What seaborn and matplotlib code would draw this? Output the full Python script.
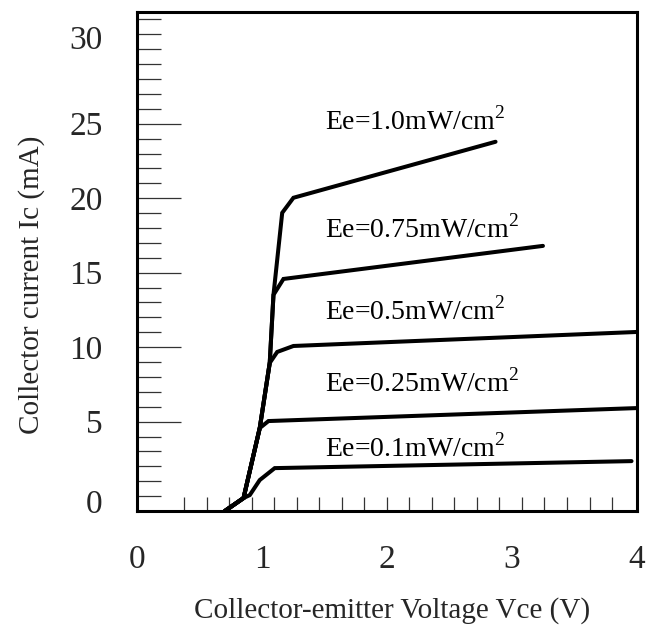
import numpy as np
import pandas as pd
import matplotlib
matplotlib.use("Agg")
import matplotlib.pyplot as plt
import seaborn as sns

# Curve values (Vce in V, Ic in mA)
vce_01 = [0.70, 0.85, 0.90, 0.98, 1.10, 3.96]
ic_01 = [-1.0, -0.13, 0.07, 1.08, 1.88, 2.35]

vce_025 = [0.70, 0.85, 0.98, 1.05, 4.00]
ic_025 = [-1.0, -0.13, 4.57, 5.04, 5.91]

vce_05 = [0.70, 0.85, 0.98, 1.06, 1.12, 1.25, 4.00]
ic_05 = [-1.0, -0.13, 4.57, 8.94, 9.68, 10.08, 11.02]

vce_075 = [0.70, 0.85, 0.98, 1.06, 1.09, 1.17, 3.25]
ic_075 = [-1.0, -0.13, 4.57, 8.94, 13.51, 14.58, 16.80]

vce_10 = [0.70, 0.85, 0.98, 1.06, 1.09, 1.16, 1.25, 2.87]
ic_10 = [-1.0, -0.13, 4.57, 8.94, 13.51, 19.02, 20.03, 23.79]

series_names = ["Ee=0.1", "Ee=0.25", "Ee=0.5", "Ee=0.75", "Ee=1.0"]
series_vce = [vce_01, vce_025, vce_05, vce_075, vce_10]
series_ic = [ic_01, ic_025, ic_05, ic_075, ic_10]

label_texts = ["Ee=0.1mW/cm$^2$", "Ee=0.25mW/cm$^2$", "Ee=0.5mW/cm$^2$",
               "Ee=0.75mW/cm$^2$", "Ee=1.0mW/cm$^2$"]
label_x = [1.50, 1.50, 1.50, 1.50, 1.50]
label_y = [2.62, 6.99, 11.83, 17.34, 24.6]

x_tick_values = [0, 1, 2, 3, 4]
y_major_values = [5, 10, 15, 20, 25]
y_extra_labels = ["0", "30"]
y_extra_pos = [-0.6, 30.6]

rows = []
for name, xs, ys in zip(series_names, series_vce, series_ic):
    for i, (x, y) in enumerate(zip(xs, ys)):
        rows.append({"curve": name, "order": i, "Vce": x, "Ic": y})
df = pd.DataFrame(rows)

sns.set_theme(style="ticks")
plt.rcParams["font.family"] = ["Liberation Serif", "DejaVu Serif"]
plt.rcParams["mathtext.fontset"] = "custom"
plt.rcParams["mathtext.rm"] = "Liberation Serif"

fig = plt.figure(figsize=(6.47, 6.33), dpi=100)
ax = fig.add_axes([0.2125, 0.1927, 0.7713, 0.7883])

sns.lineplot(data=df, x="Vce", y="Ic", units="curve", estimator=None,
             sort=False, color="black", linewidth=2.9, ax=ax,
             solid_joinstyle="miter")

ax.set_xlim(0, 4)
ax.set_ylim(-1, 32.5)

for t, x, y in zip(label_texts, label_x, label_y):
    ax.text(x, y, t, fontsize=20, ha="left", va="baseline", color="black")

# x axis: labels at integers, small marks at their own spacing
ax.set_xticks(x_tick_values)
ax.set_xticklabels([str(v) for v in x_tick_values])
ax.set_xticks(np.linspace(0.373, 3.804, 20), minor=True)
ax.tick_params(axis="x", which="major", length=0, pad=24, labelsize=24)
ax.tick_params(axis="x", which="minor", direction="in", length=10,
               width=0.9, color="#333333")

# y axis: long marks every 5, short marks every 1
ax.set_yticks(y_major_values)
ax.set_yticklabels([str(v) for v in y_major_values])
ax.set_yticks(np.arange(0, 33), minor=True)
ax.tick_params(axis="y", which="major", direction="in", length=32,
               width=0.9, color="#333333", pad=25, labelsize=24)
ax.tick_params(axis="y", which="minor", direction="in", length=17,
               width=0.9, color="#333333")
ytrans = ax.get_yaxis_transform()
for t, y in zip(y_extra_labels, y_extra_pos):
    ax.text(-0.070, y, t, transform=ytrans, fontsize=24,
            ha="right", va="center")

for s in ax.spines.values():
    s.set_visible(True)
    s.set_linewidth(2.2)
    s.set_color("black")

ax.set_xlabel("Collector-emitter Voltage Vce (V)", fontsize=21)
ax.set_ylabel("Collector current Ic (mA)", fontsize=21)
ax.xaxis.set_label_coords(0.51, -0.172)
ax.yaxis.set_label_coords(-0.185, 0.453)

fig.savefig("out.png", dpi=100)
